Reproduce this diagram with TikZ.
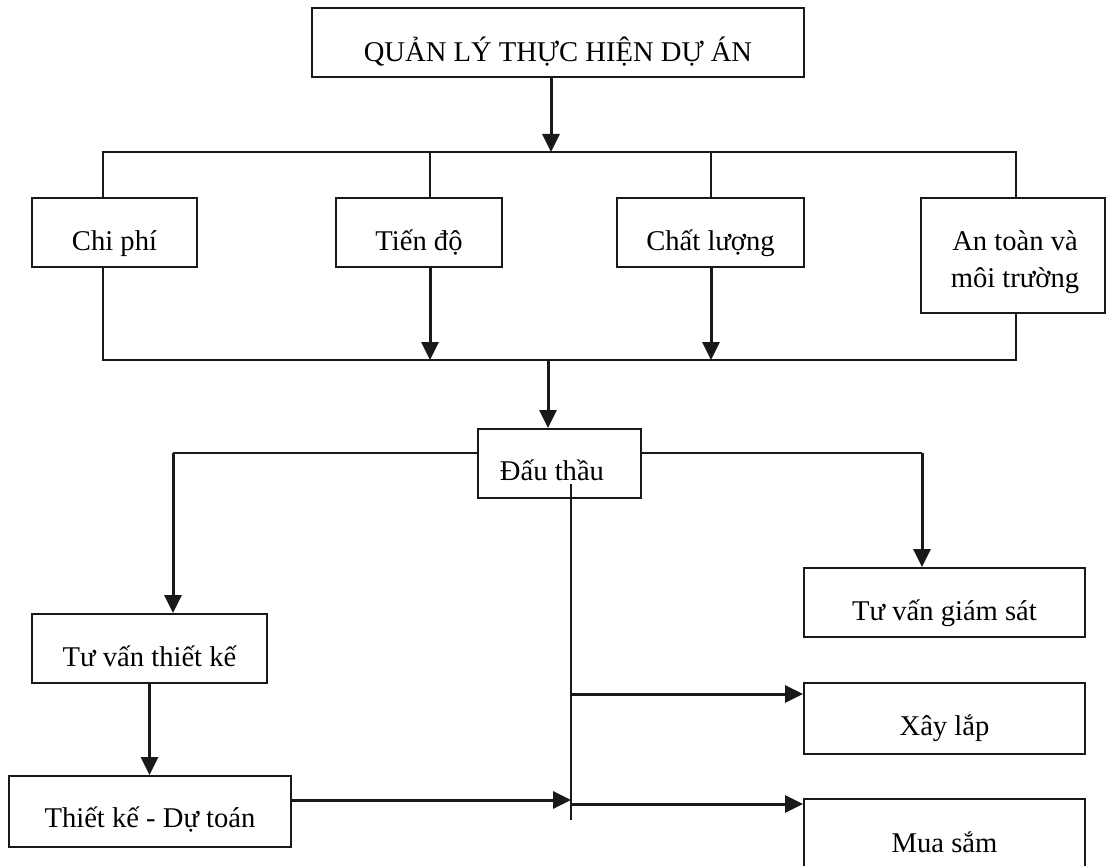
\documentclass[tikz,border=0pt]{standalone}
\usepackage{fontspec}
\setmainfont{Liberation Serif}
\usetikzlibrary{arrows.meta}
\begin{document}
\begin{tikzpicture}[x=1pt,y=-1pt,
  box/.style={draw=black!90, line width=1.8pt, inner sep=0pt, fill=white},
  lbl/.style={anchor=base, inner sep=0pt, font=\fontsize{28.6pt}{33pt}\selectfont},
  link/.style={draw=black!90, line width=1.7pt, line cap=square},
  arr/.style={draw=black!90, line width=3pt, -{Triangle[length=18pt,width=17pt]}},
]
\useasboundingbox (0,0) rectangle (1107,866);

% ---- boxes ----
\node[box, minimum width=492pt, minimum height=69pt] (top)    at (558,42.5)   {};
\node[box, minimum width=165pt, minimum height=69pt] (cp)     at (114.5,232.5) {};
\node[box, minimum width=166pt, minimum height=69pt] (td)     at (419,232.5)  {};
\node[box, minimum width=187pt, minimum height=69pt] (cl)     at (710.5,232.5) {};
\node[box, minimum width=184pt, minimum height=115pt] (antoan) at (1013,255.5) {};
\node[box, minimum width=163pt, minimum height=69pt] (dt)     at (559.5,463.5) {};
\node[box, minimum width=235pt, minimum height=69pt] (tvtk)   at (149.5,648.5) {};
\node[box, minimum width=282pt, minimum height=71pt] (tkdt)   at (150,811.5)  {};
\node[box, minimum width=281pt, minimum height=69pt] (tvgs)   at (944.5,602.5) {};
\node[box, minimum width=281pt, minimum height=71pt] (xl)     at (944.5,718.5) {};
\node[box, minimum width=281pt, minimum height=70pt] (ms)     at (944.5,834)  {};

% ---- labels ----
\node[lbl] (top-t)  at ([yshift=16pt]top.south)  {QUẢN LÝ THỰC HIỆN DỰ ÁN};
\node[lbl] (cp-t)   at ([yshift=17pt]cp.south)   {Chi phí};
\node[lbl] (td-t)   at ([yshift=17pt]td.south)   {Tiến độ};
\node[lbl] (cl-t)   at ([yshift=17pt]cl.south)   {Chất lượng};
\node[lbl] (at-t1)  at ([xshift=2pt,yshift=63pt]antoan.south) {An toàn và};
\node[lbl] (at-t2)  at ([xshift=2pt,yshift=26pt]antoan.south) {môi trường};
\node[lbl] (dt-t)   at ([xshift=-7.5pt,yshift=18pt]dt.south) {Đấu thầu};
\node[lbl] (tvtk-t) at ([yshift=17pt]tvtk.south) {Tư vấn thiết kế};
\node[lbl] (tkdt-t) at ([yshift=20pt]tkdt.south) {Thiết kế - Dự toán};
\node[lbl] (tvgs-t) at ([yshift=17pt]tvgs.south) {Tư vấn giám sát};
\node[lbl] (xl-t)   at ([yshift=19pt]xl.south)   {Xây lắp};
\node[lbl] (ms-t)   at ([yshift=17pt]ms.south)   {Mua sắm};

% ---- junction points ----
\coordinate (xA)  at (551,152);
\coordinate (tl)  at (103,152);
\coordinate (tr)  at (1016,152);
\coordinate (xtd) at (430,152);
\coordinate (xcl) at (711,152);
\coordinate (bl)  at (103,360);
\coordinate (br)  at (1016,360);
\coordinate (xB)  at (548,360);
\coordinate (dl)  at (173,453);
\coordinate (dr)  at (922,453);
\coordinate (sTop) at (571,484);
\coordinate (sBot) at (571,820);
\coordinate (j0)  at (571,800);
\coordinate (j1)  at (571,694);
\coordinate (j2)  at (571,804);

% ---- connectors ----
\draw[arr] (top.south -| xA) -- (xA);
\draw[link] (cp.north -| tl) -- (tl) -- (tr) -- (antoan.north -| tr);
\draw[link] (xtd) -- (td.north -| xtd);
\draw[link] (xcl) -- (cl.north -| xcl);

\draw[link] (cp.south -| bl) -- (bl) -- (br) -- (antoan.south -| br);
\draw[arr] (td.south -| xtd) -- (xtd |- bl);
\draw[arr] (cl.south -| xcl) -- (xcl |- bl);
\draw[arr] (xB) -- (dt.north -| xB);

\draw[link] (dt.west |- dl) -- (dl);
\draw[arr] (dl) -- (tvtk.north -| dl);
\draw[link] (dt.east |- dr) -- (dr);
\draw[arr] (dr) -- (tvgs.north -| dr);

\draw[link] (sTop) -- (sBot);
\draw[arr] (j1) -- (xl.west |- j1);
\draw[arr] (j2) -- (ms.west |- j2);
\draw[arr] (tvtk.south) -- (tvtk.south |- tkdt.north);
\draw[arr] (tkdt.east |- j0) -- (j0);
\end{tikzpicture}
\end{document}
